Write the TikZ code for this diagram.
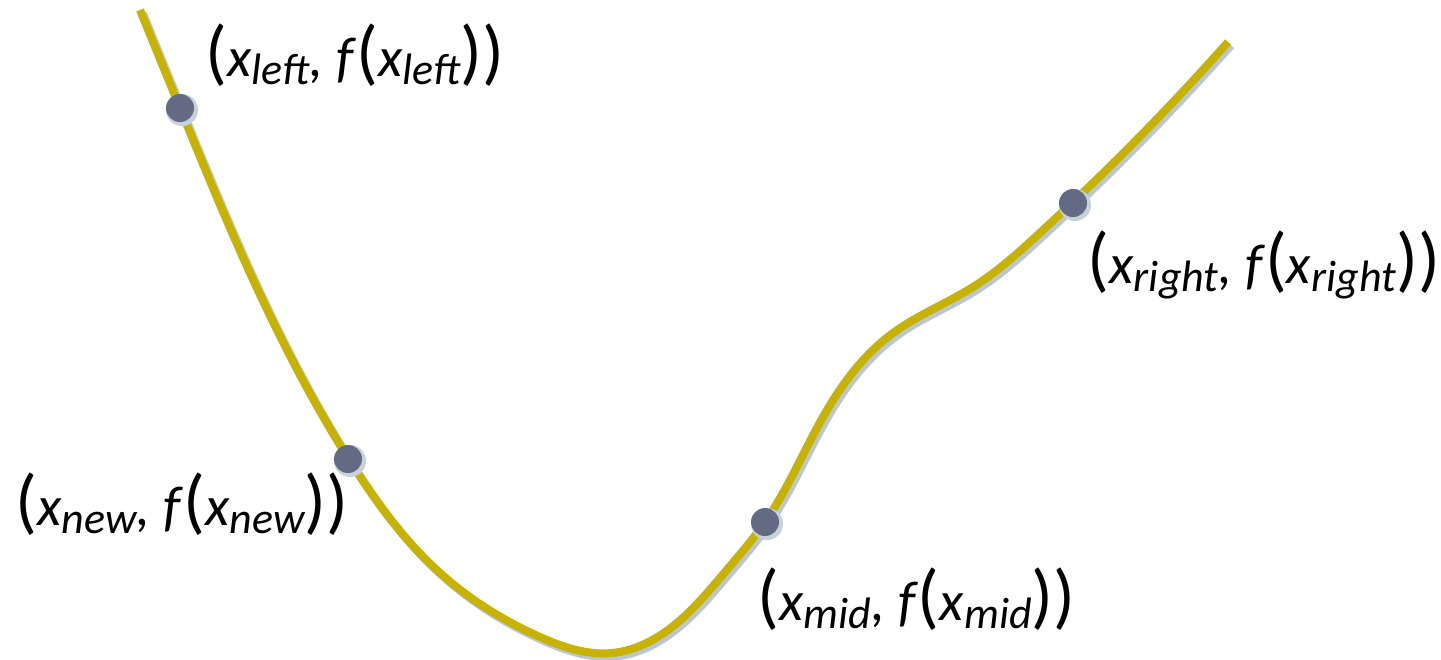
\documentclass[tikz,border=0pt]{standalone}
\usepackage{fontspec}
\usetikzlibrary{hobby}
\setmainfont{Carlito}
\definecolor{curvec}{HTML}{C8B200}
\definecolor{curvesh}{HTML}{BAC7D2}
\definecolor{dotc}{HTML}{636A84}
\definecolor{dotsh}{HTML}{C6D1D8}
\newcommand\mylp{{\fontsize{36}{40}\selectfont(}}
\newcommand\myrp{{\fontsize{36}{40}\selectfont)}}
\newcommand\myx[1]{\textit{x}\raisebox{-4pt}{\fontsize{22}{24}\selectfont\itshape #1}}
\newcommand\mylabel[1]{\mylp\myx{#1}\textit{,} \textit{f}\mylp\myx{#1}\myrp\myrp}
\newcommand\curvepath{(140,10) .. (180,108) .. (250,273) .. (348,458) .. (440,573) .. (540,637) .. (612,653) .. (668,630) .. (725,572) .. (765,522) .. (827,410) .. (893,333) .. (973,287) .. (1043,230) .. (1073,202) .. (1228,42)}
\begin{document}
\begin{tikzpicture}[x=0.5pt,y=-0.5pt,
  curve/.style={line width=4pt,use Hobby shortcut},
  dotnode/.style={circle,fill=dotc,minimum size=14pt,inner sep=0pt,draw=none},
  lab/.style={inner sep=0pt,anchor=base west,font=\fontsize{28}{32}\selectfont}]
\path[use as bounding box,fill=white] (0,0) rectangle (1441,659);
\begin{scope}[shift={(3,3.5)}]
\draw[curve,color=curvesh] \curvepath;
\end{scope}
\draw[curve,color=curvec] \curvepath;
\coordinate (cl) at (180,108);
\coordinate (cn) at (348,459);
\coordinate (cm) at (765,522);
\coordinate (cr) at (1073,203);
\foreach \c in {cl,cn,cm,cr}{\fill[dotsh] ([shift={(2,2)}]\c) circle (16);}
\node[dotnode] (pl) at (cl) {};
\node[dotnode] (pn) at (cn) {};
\node[dotnode] (pm) at (cm) {};
\node[dotnode] (pr) at (cr) {};
\node[lab] (tl) at (205,76) {\mylabel{left}};
\node[lab] (tn) at (15,525) {\mylabel{new}};
\node[lab] (tm) at (757,620) {\mylabel{mid}};
\node[lab] (tr) at (1087,283) {\mylabel{right}};
\end{tikzpicture}
\end{document}
